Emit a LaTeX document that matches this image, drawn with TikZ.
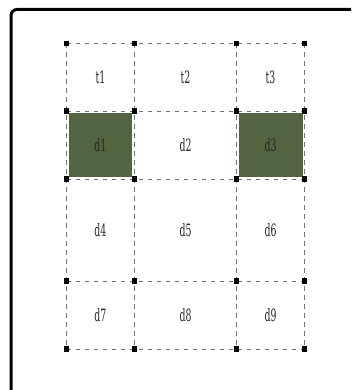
\documentclass[tikz,border=0pt]{standalone}
\usepackage{graphicx}
\usepackage{fontspec}
\newfontfamily\cellfont{DejaVu Serif}
\usetikzlibrary{calc}
\definecolor{cellgreen}{HTML}{536440}
\begin{document}
\begin{tikzpicture}[x=1pt,y=-1pt,
  gridline/.style={draw=black!55, dash pattern=on 4.5pt off 4.5pt, line width=0.9pt},
  dotmark/.style={fill=black, rectangle, minimum size=5.5pt, inner sep=0pt},
  lbl/.style={text=black!85, inner sep=0pt},
  cellfill/.style={fill=cellgreen},
  frame/.style={line width=3pt, rounded corners=6pt}]
\useasboundingbox (0,0) rectangle (351,390);
\begin{scope}
  \clip (0,0) rectangle (351,390);
  \draw[frame] (11,9.5) rectangle (380,420);
\end{scope}
% grid coordinates
\foreach \x [count=\i] in {66.5,134.3,236.7,304.3}{
  \foreach \y [count=\j] in {43.3,111,179,281,349}{
    \coordinate (p\i\j) at (\x,\y);
  }
}
% shaded cells
\fill[cellfill] (69,113.5) rectangle (132,176.5);
\fill[cellfill] (239,113.5) rectangle (302.5,176.5);
% dashed lines
\foreach \j in {1,...,5}{ \draw[gridline] (p1\j) -- (p4\j); }
\foreach \i in {1,...,4}{ \draw[gridline] (p\i1) -- (p\i5); }
% corner marks
\foreach \i in {1,...,4}{
  \foreach \j in {1,...,5}{
    \node[dotmark] (m\i\j) at (p\i\j) {};
  }
}
% labels
\newcommand{\celltext}[1]{\cellfont\fontsize{17}{17}\selectfont\scalebox{0.55}[1]{#1}}
\node[lbl] (t1) at ($(p11)!0.5!(p22)$) {\celltext{t1}};
\node[lbl] (t2) at ($(p21)!0.5!(p32)$) {\celltext{t2}};
\node[lbl] (t3) at ($(p31)!0.5!(p42)$) {\celltext{t3}};
\node[lbl] (d1) at ($(p12)!0.5!(p23)$) {\celltext{d1}};
\node[lbl] (d2) at ($(p22)!0.5!(p33)$) {\celltext{d2}};
\node[lbl] (d3) at ($(p32)!0.5!(p43)$) {\celltext{d3}};
\node[lbl] (d4) at ($(p13)!0.5!(p24)$) {\celltext{d4}};
\node[lbl] (d5) at ($(p23)!0.5!(p34)$) {\celltext{d5}};
\node[lbl] (d6) at ($(p33)!0.5!(p44)$) {\celltext{d6}};
\node[lbl] (d7) at ($(p14)!0.5!(p25)$) {\celltext{d7}};
\node[lbl] (d8) at ($(p24)!0.5!(p35)$) {\celltext{d8}};
\node[lbl] (d9) at ($(p34)!0.5!(p45)$) {\celltext{d9}};
\end{tikzpicture}
\end{document}
